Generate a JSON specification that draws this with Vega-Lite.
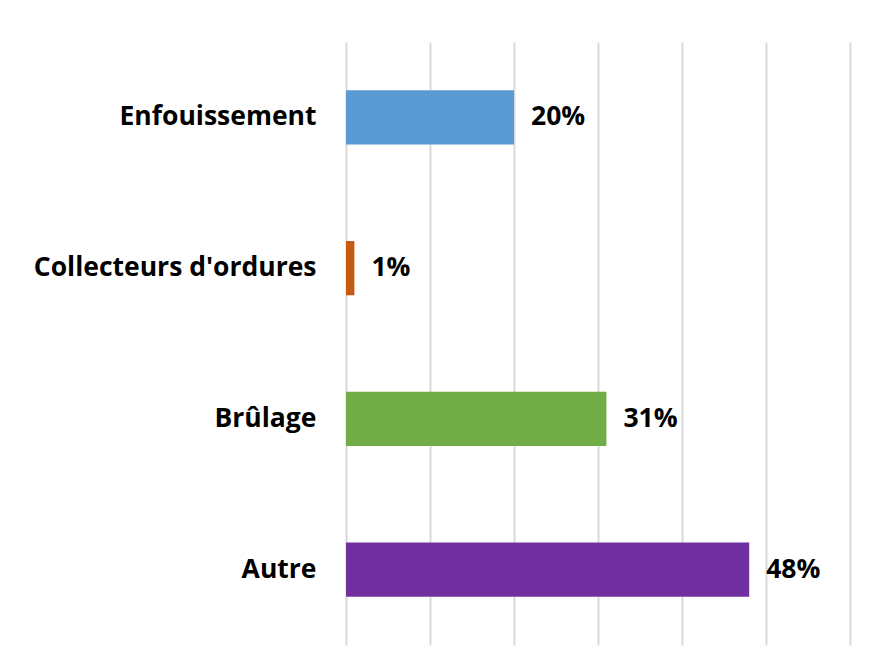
{
  "$schema": "https://vega.github.io/schema/vega-lite/v6.json",
  "autosize": {"type": "none"},
  "padding": {"left": 346, "top": 42, "right": 19, "bottom": 23},
  "width": 504,
  "height": 603,
  "background": "white",
  "data": {
    "values": [
      {"categorie": "Enfouissement", "part": 0.20},
      {"categorie": "Collecteurs d'ordures", "part": 0.01},
      {"categorie": "Brûlage", "part": 0.31},
      {"categorie": "Autre", "part": 0.48}
    ]
  },
  "encoding": {
    "y": {
      "field": "categorie",
      "type": "nominal",
      "sort": null,
      "scale": {"paddingInner": 0.64, "paddingOuter": 0.32},
      "axis": {
        "title": null,
        "domain": false,
        "ticks": false,
        "labelPadding": 30,
        "labelFont": "Open Sans",
        "labelFontSize": 26.5,
        "labelFontWeight": "bold",
        "labelColor": "black",
        "labelLimit": 400
      }
    },
    "x": {
      "field": "part",
      "type": "quantitative",
      "scale": {"domain": [0, 0.6], "nice": false},
      "axis": {
        "title": null,
        "labels": false,
        "domain": false,
        "ticks": false,
        "grid": true,
        "values": [0, 0.1, 0.2, 0.3, 0.4, 0.5, 0.6],
        "gridColor": "#D9D9D9",
        "gridWidth": 2
      }
    }
  },
  "layer": [
    {
      "mark": {"type": "bar"},
      "encoding": {
        "color": {
          "field": "categorie",
          "type": "nominal",
          "scale": {
            "domain": ["Enfouissement", "Collecteurs d'ordures", "Brûlage", "Autre"],
            "range": ["#5B9BD5", "#C55A11", "#70AD47", "#7030A0"]
          },
          "legend": null
        }
      }
    },
    {
      "mark": {
        "type": "text",
        "align": "left",
        "baseline": "middle",
        "dx": 17,
        "font": "Open Sans",
        "fontSize": 26.5,
        "fontWeight": "bold",
        "color": "black"
      },
      "encoding": {
        "text": {"field": "part", "type": "quantitative", "format": ".0%"}
      }
    }
  ],
  "config": {"view": {"stroke": null}}
}
